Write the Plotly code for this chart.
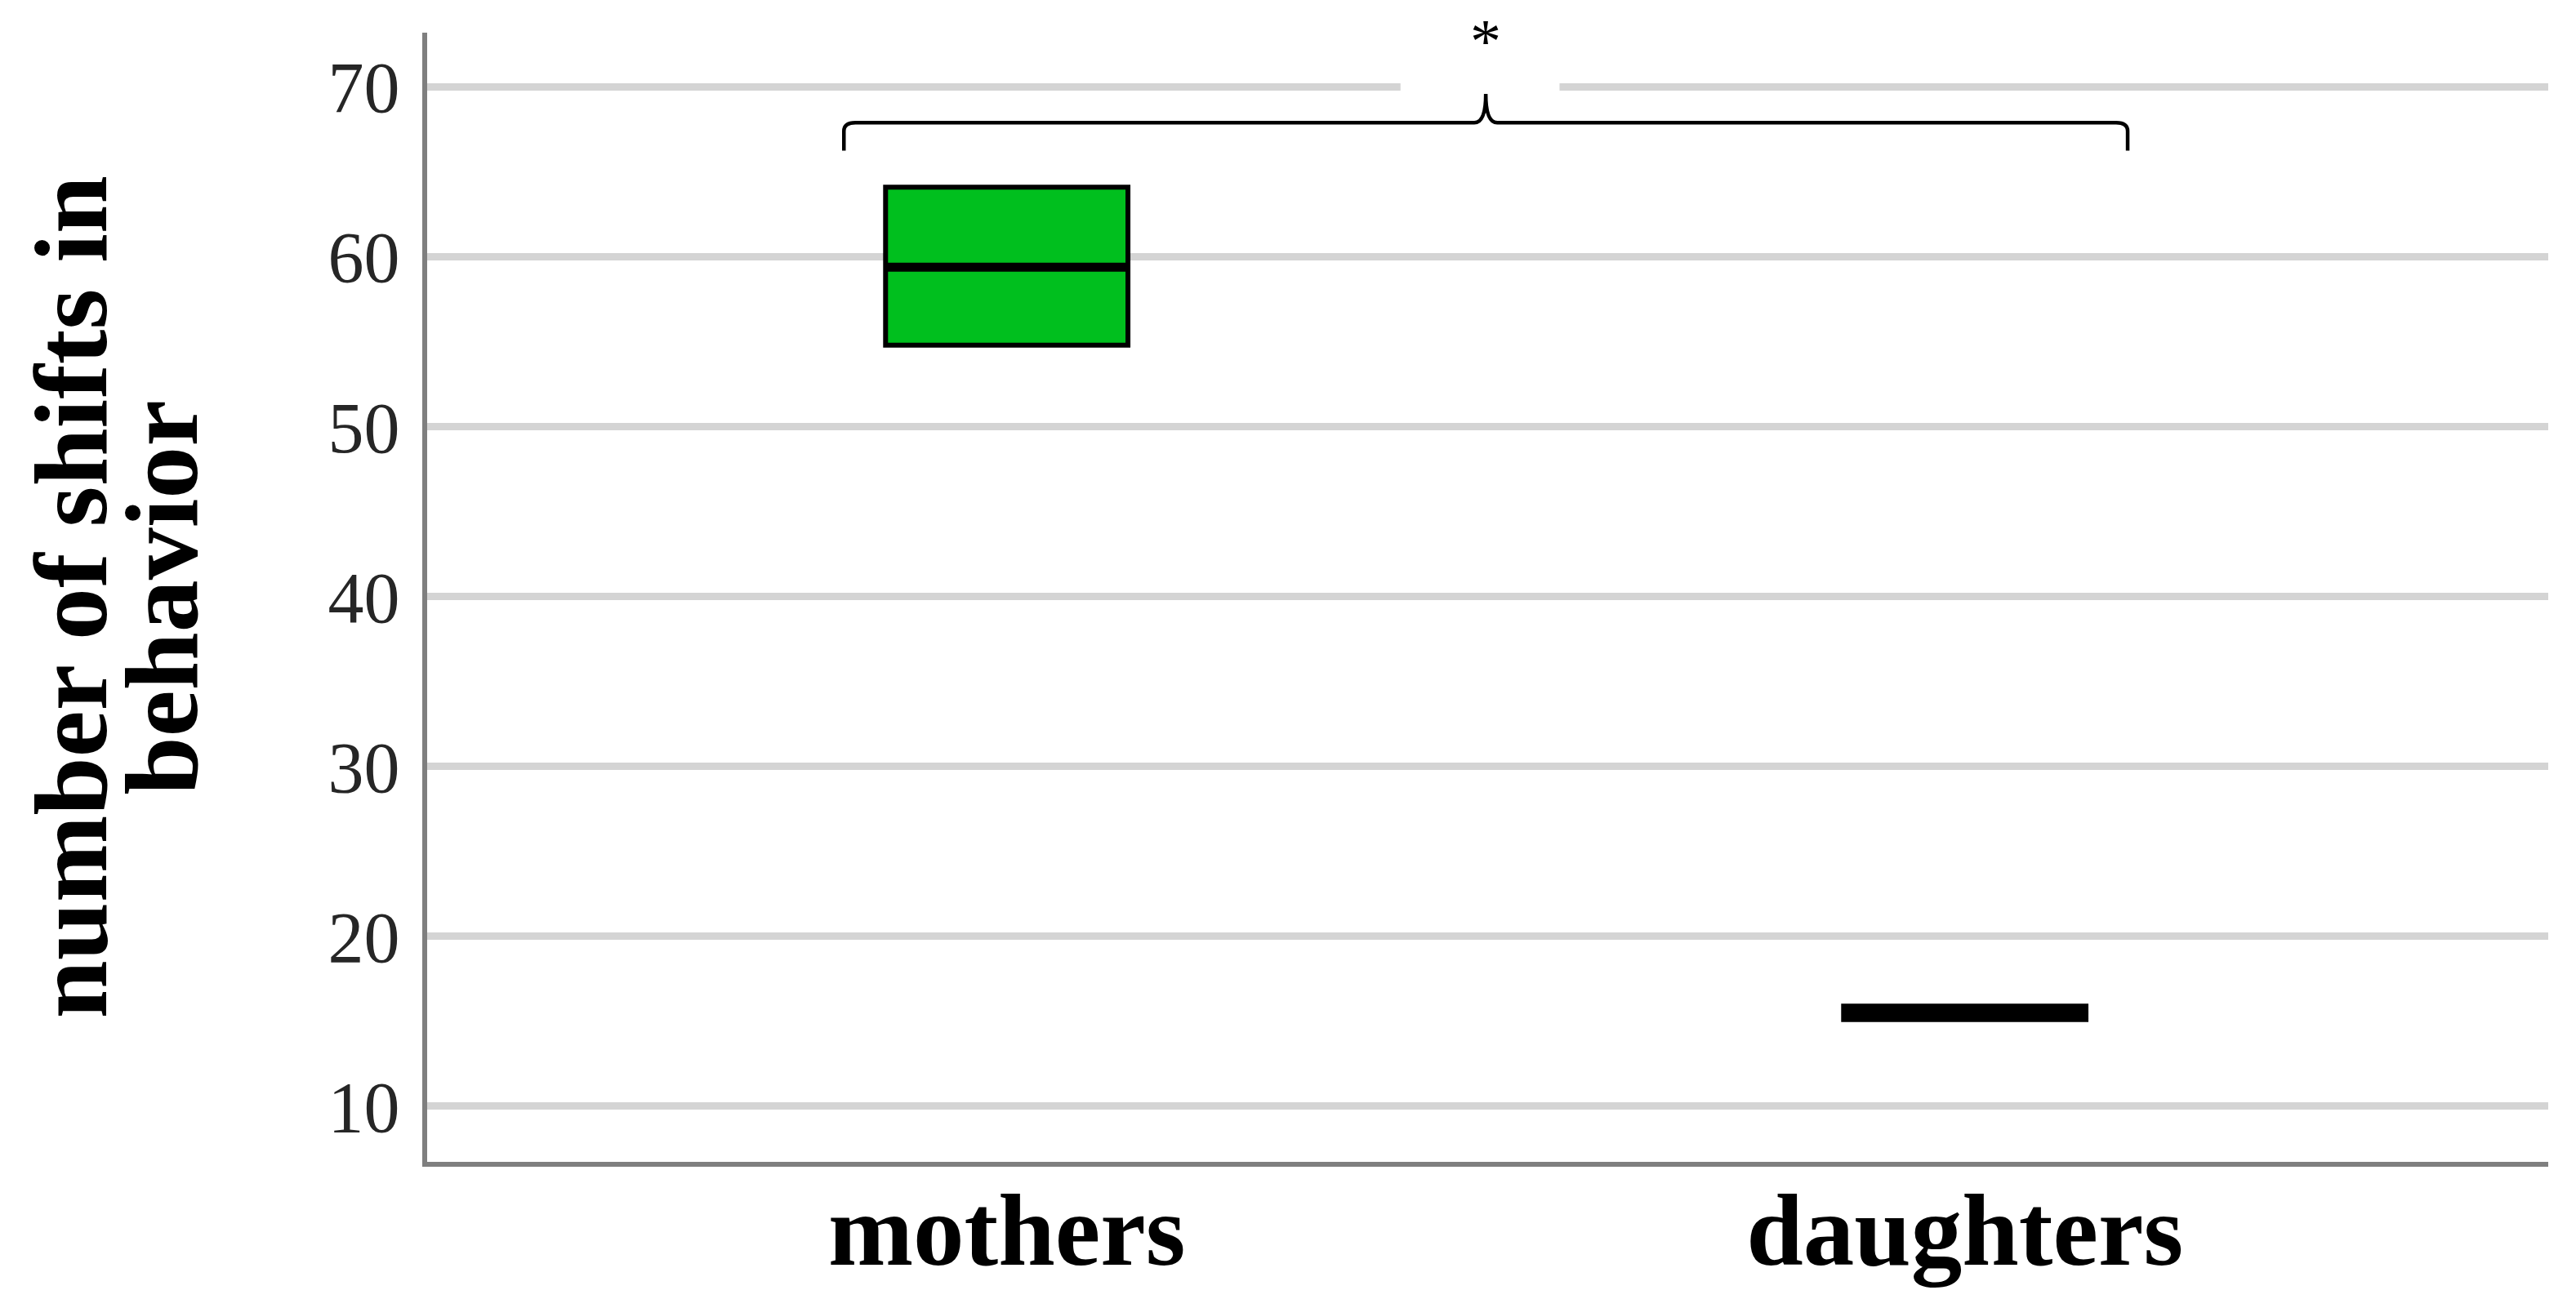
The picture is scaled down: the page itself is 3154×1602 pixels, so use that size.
"""
Box plot: number of shifts in behavior, mothers vs daughters, with significance bracket.
"""
import plotly.graph_objects as go

groups = ["mothers", "daughters"]
positions = [0, 1]
q1 = [54.8, 15.1]
median = [59.4, 15.5]
q3 = [64.1, 15.9]
y_ticks = [10, 20, 30, 40, 50, 60, 70]

box_width = 0.253
serif = "Liberation Serif"

fig = go.Figure()

fig.add_trace(
    go.Box(
        x=positions,
        q1=q1,
        median=median,
        q3=q3,
        lowerfence=q1,
        upperfence=q3,
        width=box_width,
        whiskerwidth=0,
        fillcolor="#00BF1E",
        line=dict(color="black", width=6),
        boxpoints=False,
        hoverinfo="skip",
        showlegend=False,
    )
)

shapes = []

# white patch over the 70 gridline behind the star
shapes.append(
    dict(
        type="rect", xref="x", yref="y", x0=0.411, x1=0.577, y0=69.55, y1=70.45,
        fillcolor="white", line=dict(width=0), layer="above",
    )
)

# thicker median lines
for pos, m in zip(positions, median):
    shapes.append(
        dict(
            type="line", xref="x", yref="y",
            x0=pos - box_width / 2, x1=pos + box_width / 2, y0=m, y1=m,
            line=dict(color="black", width=11), layer="above",
        )
    )

# curly bracket between the two groups
mid = sum(positions) / 2
half = 0.67
xl, xr = mid - half, mid + half
y_end, y_bar, y_peak = 66.25, 67.9, 69.6
rx, ry = 0.012, 0.5
bracket = (
    f"M {xl},{y_end} L {xl},{y_bar - ry} Q {xl},{y_bar} {xl + rx},{y_bar} "
    f"L {mid - rx},{y_bar} Q {mid},{y_bar} {mid},{y_peak} "
    f"Q {mid},{y_bar} {mid + rx},{y_bar} L {xr - rx},{y_bar} "
    f"Q {xr},{y_bar} {xr},{y_bar - ry} L {xr},{y_end}"
)
shapes.append(
    dict(type="path", xref="x", yref="y", path=bracket,
         line=dict(color="black", width=4.5), layer="above")
)

annotations = [
    dict(text="*", x=mid, y=72.7, xref="x", yref="y", showarrow=False,
         font=dict(family=serif, size=76, color="black")),
    dict(text="<b>number of shifts in</b>", x=0, y=0.5, xref="paper", yref="paper",
         xanchor="center", yanchor="middle",
         xshift=-437, textangle=-90, showarrow=False,
         font=dict(family=serif, size=128, color="black")),
    dict(text="<b>behavior</b>", x=0, y=0.5, xref="paper", yref="paper",
         xanchor="center", yanchor="middle",
         xshift=-326, textangle=-90, showarrow=False,
         font=dict(family=serif, size=128, color="black")),
]

fig.update_layout(
    width=3154,
    height=1602,
    margin=dict(l=523, r=34, t=40, b=179),
    paper_bgcolor="white",
    plot_bgcolor="white",
    shapes=shapes,
    annotations=annotations,
    xaxis=dict(
        range=[-0.605, 1.609],
        tickvals=positions,
        ticktext=[f"<b>{g}</b>" for g in groups],
        tickfont=dict(family=serif, size=125, color="black"),
        showgrid=False,
        zeroline=False,
        showline=True,
        linecolor="#7f7f7f",
        linewidth=6,
        ticks="",
        ticklabelstandoff=-30,
        automargin=False,
    ),
    yaxis=dict(
        range=[6.73, 73.2],
        tickvals=y_ticks,
        tickfont=dict(family=serif, size=88, color="#262626"),
        showgrid=True,
        gridcolor="#d4d4d4",
        gridwidth=9,
        zeroline=False,
        showline=True,
        linecolor="#7f7f7f",
        linewidth=6,
        ticks="",
        ticklabelstandoff=10,
        automargin=False,
    ),
)

fig.write_html(
    "out.html",
    config={"displayModeBar": False},
    post_script="document.body.style.margin='0';",
)
